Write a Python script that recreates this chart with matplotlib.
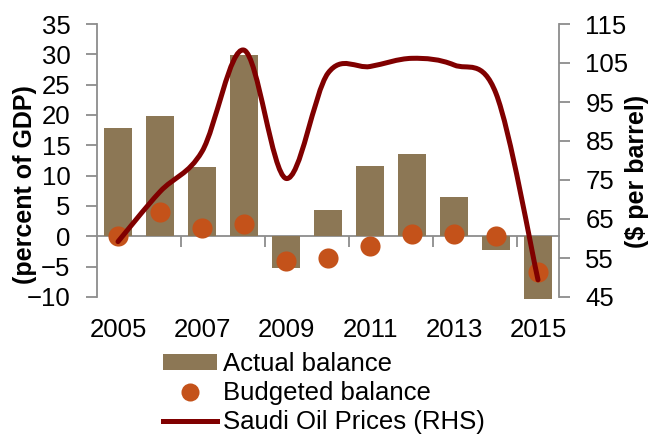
import numpy as np
import matplotlib
matplotlib.use("Agg")
import matplotlib.pyplot as plt
from matplotlib.path import Path
from matplotlib.patches import PathPatch
from matplotlib.lines import Line2D
from matplotlib.patches import Patch

plt.rcParams['font.family'] = ['Liberation Sans', 'DejaVu Sans']

years = [2005, 2006, 2007, 2008, 2009, 2010, 2011, 2012, 2013, 2014, 2015]
actual_balance = [17.8, 19.9, 11.4, 29.9, -5.3, 4.4, 11.6, 13.6, 6.5, -2.3, -10.3]
budgeted_balance = [0.0, 4.0, 1.3, 2.1, -4.0, -3.5, -1.6, 0.4, 0.4, 0.0, -5.8]
oil_price = [59.2, 72.0, 82.3, 108.3, 75.4, 102.4, 104.1, 106.2, 104.5, 97.2, 49.4]
xtick_labels = ['2005', '2007', '2009', '2011', '2013', '2015']

bar_color = '#8C7755'
dot_color = '#C4521A'
line_color = '#800000'
axis_gray = '#8C8C8C'
FS = 18.5

W, H = 653, 434
fig = plt.figure(figsize=(W / 100, H / 100), dpi=100)
ax = fig.add_axes([97 / W, 1 - 297 / H, (559 - 97) / W, (297 - 24) / H])
ax2 = ax.twinx()

ax.bar(years, actual_balance, width=0.67, color=bar_color, zorder=2, clip_on=False)
ax.scatter(years, budgeted_balance, s=210, color=dot_color, zorder=3, linewidths=0, clip_on=False)

ymin, ymax = -10, 35
ax.set_ylim(ymin, ymax)
ax.set_xlim(years[0] - 0.5, years[-1] + 0.5)
ax.set_yticks(np.arange(-10, 36, 5))
ax.set_xticks(years[::2])
ax.set_xticklabels(xtick_labels)
ax.tick_params(axis='x', length=0, pad=15, labelsize=FS)
ax.tick_params(axis='y', length=8, width=1.3, color=axis_gray, pad=11, labelsize=FS, direction='out')

for s in ['top', 'bottom', 'right']:
    ax.spines[s].set_visible(False)
ax.spines['left'].set_color(axis_gray)
ax.spines['left'].set_linewidth(1.3)

# zero axis line with category tick marks
zero_frac = (0 - ymin) / (ymax - ymin)
sec = ax.secondary_xaxis(zero_frac)
sec.set_xticks([y + 0.5 for y in years[1:-1:2]])
sec.set_xticklabels([])
sec.tick_params(axis='x', length=8, width=1.3, color=axis_gray, direction='out')
sec.spines['bottom'].set_color(axis_gray)
sec.spines['bottom'].set_linewidth(1.3)
for s in ['top', 'left', 'right']:
    if s in sec.spines:
        sec.spines[s].set_visible(False)

# right axis: smoothed oil price line
ax2.set_ylim(45, 115)
ax2.set_yticks(np.arange(45, 116, 10))
ax2.tick_params(axis='y', length=8, width=1.3, color=axis_gray, pad=11, labelsize=FS, direction='out')
for s in ['top', 'bottom', 'left']:
    ax2.spines[s].set_visible(False)
ax2.spines['right'].set_color(axis_gray)
ax2.spines['right'].set_linewidth(1.3)

pts = np.column_stack([years, oil_price]).astype(float)
verts = [pts[0]]
codes = [Path.MOVETO]
n = len(pts)
for i in range(n - 1):
    p0 = pts[i - 1] if i > 0 else pts[i]
    p1 = pts[i]
    p2 = pts[i + 1]
    p3 = pts[i + 2] if i + 2 < n else pts[i + 1]
    c1 = p1 + (p2 - p0) / 6.0
    c2 = p2 - (p3 - p1) / 6.0
    verts += [c1, c2, p2]
    codes += [Path.CURVE4] * 3
path = Path(verts, codes)
ax2.add_patch(PathPatch(path, facecolor='none', edgecolor=line_color, lw=3.6,
                        capstyle='round', joinstyle='round', zorder=4, clip_on=False))

fig.text(25 / W, 1 - 185 / H, '(percent of GDP)', fontsize=18, fontweight='bold',
         rotation=90, ha='center', va='center')
fig.text(637 / W, 1 - 171 / H, '($ per barrel)', fontsize=18, fontweight='bold',
         rotation=90, ha='center', va='center')

handles = [Patch(facecolor=bar_color, edgecolor='none'),
           Line2D([], [], marker='o', linestyle='none', markersize=13, color=dot_color, markeredgewidth=0),
           Line2D([], [], color=line_color, lw=3.6)]
labels = ['Actual balance', 'Budgeted balance', 'Saudi Oil Prices (RHS)']
leg = fig.legend(handles, labels, loc='upper left', bbox_to_anchor=(163 / W, 1 - 352 / H),
                 frameon=False, fontsize=FS, handlelength=2.1, handleheight=0.55, handletextpad=0.25,
                 labelspacing=0.2, borderpad=0, borderaxespad=0)

fig.savefig('out.png', dpi=100)
